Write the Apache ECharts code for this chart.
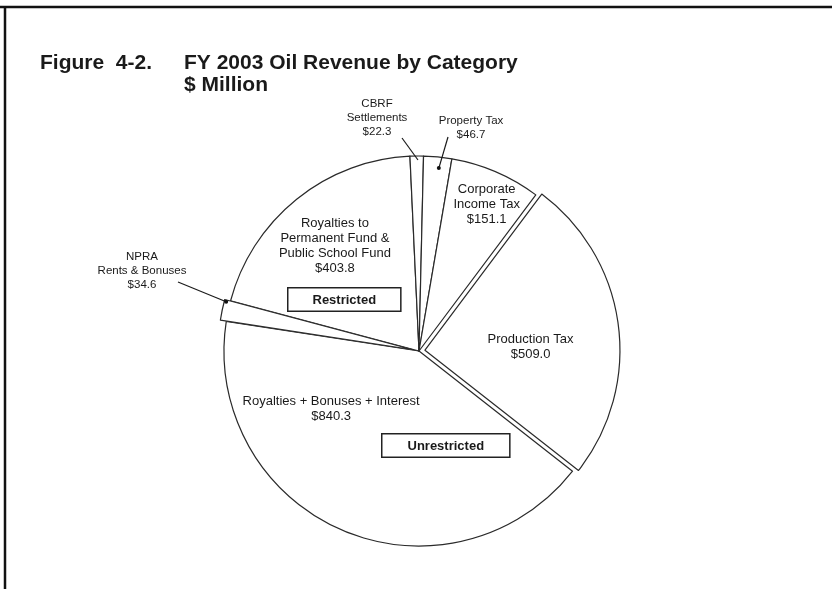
<!DOCTYPE html>
<html>
<head>
<meta charset="utf-8">
<script src="https://cdn.jsdelivr.net/npm/echarts@6/dist/echarts.min.js"></script>
<style>
html,body{margin:0;padding:0;background:#fff;}
#main{width:832px;height:589px;}
</style>
</head>
<body>
<div id="main"></div>
<script>
// Categories in clockwise order starting from the Production Tax slice
var categories = [
  'Production Tax',
  'Royalties + Bonuses + Interest',
  'NPRA\nRents & Bonuses',
  'Royalties to\nPermanent Fund &\nPublic School Fund',
  'CBRF\nSettlements',
  'Property Tax',
  'Corporate\nIncome Tax'
];
// $ Million
var values = [509.0, 840.3, 34.6, 403.8, 22.3, 46.7, 151.1];
var exploded = [true, false, true, false, false, false, false];
var outsideLabel = [false, false, true, false, true, true, false];
var groupLabels = ['Restricted', 'Unrestricted'];

var FONT = '"Liberation Sans", Arial, sans-serif';
var chart = echarts.init(document.getElementById('main'), null, {renderer: 'canvas'});

var INK = '#1a1a1a';
var CX = 419, CY = 351, R = 195, START = 53.2;
var hidden = {color: 'rgba(0,0,0,0)', borderWidth: 0};

// slice angular extents (degrees clockwise from 12 o'clock), derived from the values
var total = values.reduce(function (a, b) { return a + b; }, 0);
var sliceFrom = [], sliceTo = [];
(function () {
  var a = 90 - START;
  values.forEach(function (v, i) {
    sliceFrom[i] = a;
    a += v / total * 360;
    sliceTo[i] = a;
  });
})();
// where a leader line touches a slice: fraction across the slice, distance in from the rim
var leaderTouch = {2: [0.9, -4], 4: [0.59, 4], 5: [0.58, 11]};
var leaderDot = {2: true, 4: false, 5: true};
function touchPoint(i) {
  var t = leaderTouch[i];
  var ang = (sliceFrom[i] + (sliceTo[i] - sliceFrom[i]) * t[0]) * Math.PI / 180;
  var r = R - t[1];
  return [CX + r * Math.sin(ang), CY - r * Math.cos(ang)];
}

// label fine placement
var insideShift = {0: [6, 10], 1: [-48, -34], 3: [-21, -27], 6: [28, -54]};
var outsidePos = {2: [142, 271], 4: [377, 118], 5: [471, 128]};
var leaderFrom = {2: [36, 11], 4: [25, 20], 5: [-23, 9]};

// main pie: every slice except the separated NPRA wedge (drawn by the overlay pie)
var mainData = categories.map(function (c, i) {
  var sep = exploded[i] && outsideLabel[i];
  return {
    name: c,
    value: values[i],
    selected: exploded[i] && !sep,
    itemStyle: sep ? hidden : undefined,
    label: outsideLabel[i]
      ? {position: 'outside', fontSize: 11.5, lineHeight: 14}
      : {position: 'inside'}
  };
});
// overlay pie: only the separated NPRA wedge is visible
var overlayData = categories.map(function (c, i) {
  var sep = exploded[i] && outsideLabel[i];
  return {
    name: c,
    value: values[i],
    selected: sep,
    itemStyle: sep ? undefined : hidden
  };
});

// leader lines (from label to slice) and their end dots
var leaders = [];
Object.keys(outsidePos).forEach(function (k) {
  var i = +k;
  var s = [outsidePos[i][0] + leaderFrom[i][0], outsidePos[i][1] + leaderFrom[i][1]];
  var e = touchPoint(i);
  leaders.push({type: 'line', z: 20, shape: {x1: s[0], y1: s[1], x2: e[0], y2: e[1]},
                style: {stroke: '#1a1a1a', lineWidth: 1.2}});
  if (leaderDot[i]) {
    leaders.push({type: 'circle', z: 20, shape: {cx: e[0], cy: e[1], r: 2}, style: {fill: '#111'}});
  }
});

var pieBase = {
  type: 'pie',
  center: [CX, CY],
  radius: R,
  startAngle: START,
  clockwise: true,
  selectedMode: 'multiple',
  selectedOffset: 6,
  avoidLabelOverlap: false,
  emphasis: {disabled: true},
  labelLine: {show: false},
  itemStyle: {color: '#ffffff', borderColor: '#2a2a2a', borderWidth: 1.2}
};

chart.setOption({
  backgroundColor: '#ffffff',
  animation: false,
  title: [
    {text: 'Figure  4-2.', left: 35, top: 47,
     textStyle: {fontFamily: FONT, fontSize: 21, fontWeight: 'bold', color: INK, lineHeight: 22}},
    {text: 'FY 2003 Oil Revenue by Category\n$ Million', left: 179, top: 47,
     textStyle: {fontFamily: FONT, fontSize: 21, fontWeight: 'bold', color: INK, lineHeight: 22}}
  ],
  graphic: [
    {type: 'line', shape: {x1: 0, y1: 7, x2: 832, y2: 7}, style: {stroke: '#111', lineWidth: 2.5}},
    {type: 'line', shape: {x1: 5, y1: 6, x2: 5, y2: 589}, style: {stroke: '#111', lineWidth: 2.5}},
    {type: 'text', left: 287, top: 287, z: 10,
     style: {text: groupLabels[0], font: 'bold 13px ' + FONT, fill: INK,
             backgroundColor: '#fff', borderColor: '#222', borderWidth: 1.5, padding: [5, 24, 4, 24]}},
    {type: 'text', left: 381, top: 433, z: 10,
     style: {text: groupLabels[1], font: 'bold 13px ' + FONT, fill: INK,
             backgroundColor: '#fff', borderColor: '#222', borderWidth: 1.5, padding: [5, 25, 4, 25]}}
  ].concat(leaders),
  series: [
    echarts.util.merge({
      name: 'main',
      label: {
        show: true,
        fontFamily: FONT,
        fontSize: 13,
        lineHeight: 15,
        color: INK,
        align: 'center',
        formatter: function (p) { return p.name + '\n$' + p.value.toFixed(1); }
      },
      labelLayout: function (params) {
        var i = params.dataIndex;
        if (outsidePos[i]) {
          return {x: outsidePos[i][0], y: outsidePos[i][1], align: 'center', verticalAlign: 'middle'};
        }
        if (insideShift[i]) {
          return {dx: insideShift[i][0], dy: insideShift[i][1]};
        }
        return {};
      },
      data: mainData
    }, pieBase),
    echarts.util.merge({
      name: 'overlay',
      silent: true,
      label: {show: false},
      data: overlayData
    }, pieBase)
  ]
});
</script>
</body>
</html>
